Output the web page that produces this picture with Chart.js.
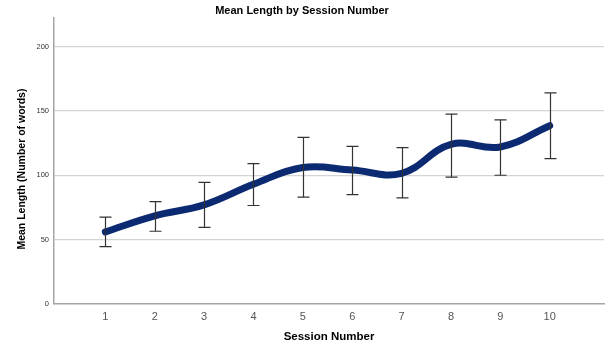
<!DOCTYPE html>
<html>
<head>
<meta charset="utf-8">
<script src="https://cdn.jsdelivr.net/npm/chart.js@4/dist/chart.umd.min.js"></script>
<style>
  html, body { margin: 0; padding: 0; background: #fff; }
  #wrap { width: 605px; height: 348px; }
</style>
</head>
<body>
<div id="wrap"><canvas id="myChart"></canvas></div>
<script>
const sessions = [1, 2, 3, 4, 5, 6, 7, 8, 9, 10];
const meanLength = [56, 68.5, 77, 93, 106, 104, 101.5, 124, 122, 138.5];
const upperCi = [67.5, 79.5, 94.5, 109, 129.5, 122.5, 121.5, 147.5, 143, 164];
const lowerCi = [44.5, 56.5, 59.5, 76.5, 83, 85, 82.5, 98.5, 100, 113];
const yTicks = [0, 50, 100, 150, 200];
const yTitle = "Mean Length (Number of words)";

const fontName = "'Liberation Sans', Arial, sans-serif";

// whiskers drawn from the scales, after the line
const errorBars = {
  id: "errorBars",
  afterDatasetsDraw(chart) {
    const { ctx, scales } = chart;
    ctx.save();
    ctx.strokeStyle = "#333";
    ctx.lineWidth = 1.2;
    sessions.forEach((s, i) => {
      const x = Math.round(scales.x.getPixelForValue(s)) + 0.5;
      const top = scales.y.getPixelForValue(upperCi[i]);
      const bottom = scales.y.getPixelForValue(lowerCi[i]);
      ctx.beginPath();
      ctx.moveTo(x, top);
      ctx.lineTo(x, bottom);
      ctx.moveTo(x - 6, top);
      ctx.lineTo(x + 6, top);
      ctx.moveTo(x - 6, bottom);
      ctx.lineTo(x + 6, bottom);
      ctx.stroke();
    });
    ctx.restore();
  },
};

// y title sits a bit below the axis middle in the original
const yAxisTitle = {
  id: "yAxisTitle",
  afterDraw(chart) {
    const { ctx, chartArea } = chart;
    ctx.save();
    ctx.translate(22, (chartArea.top + chartArea.bottom) / 2 + 8);
    ctx.rotate(-Math.PI / 2);
    ctx.font = "bold 10.5px " + fontName;
    ctx.fillStyle = "#000";
    ctx.textAlign = "center";
    ctx.textBaseline = "middle";
    ctx.fillText(yTitle, 0, 0);
    ctx.restore();
  },
};

const chartCanvas = document.querySelector("#myChart");

new Chart(chartCanvas, {
  type: "line",
  data: {
    datasets: [
      {
        data: sessions.map((s, i) => ({ x: s, y: meanLength[i] })),
        borderColor: "#0c2a72",
        backgroundColor: "#0c2a72",
        borderWidth: 7,
        borderCapStyle: "round",
        pointRadius: 0,
        tension: 0.4,
        cubicInterpolationMode: "default",
      },
    ],
  },
  options: {
    responsive: true,
    maintainAspectRatio: false,
    animation: false,
    layout: { padding: { top: 0, right: 1, left: 0, bottom: 0 } },
    plugins: {
      legend: { display: false },
      tooltip: { enabled: false },
      title: {
        display: true,
        text: "Mean Length by Session Number",
        color: "#000",
        font: { family: fontName, size: 11, weight: "bold" },
        padding: { top: 4, bottom: 1 },
      },
    },
    scales: {
      x: {
        type: "linear",
        min: -0.04,
        max: 11.1,
        afterBuildTicks: (axis) => {
          axis.ticks = sessions.map((v) => ({ value: v }));
        },
        afterFit: (axis) => {
          axis.height = 44;
        },
        grid: { display: false, drawTicks: false },
        border: { display: true, color: "#a6a6a6", width: 1.5 },
        ticks: {
          color: "#555",
          padding: 6,
          maxRotation: 0,
          font: { family: fontName, size: 11 },
        },
        title: {
          display: true,
          text: "Session Number",
          color: "#000",
          padding: { top: 7 },
          font: { family: fontName, size: 11.5, weight: "bold" },
        },
      },
      y: {
        min: 0,
        max: 222,
        afterBuildTicks: (axis) => {
          axis.ticks = yTicks.map((v) => ({ value: v }));
        },
        afterFit: (axis) => {
          axis.width = 54;
        },
        grid: {
          color: (c) => (c.tick && c.tick.value === 0 ? "rgba(0,0,0,0)" : "#d4d4d4"),
          lineWidth: 1.2,
          drawTicks: false,
        },
        border: { display: true, color: "#a6a6a6", width: 1.5 },
        ticks: {
          color: "#333",
          padding: 5,
          font: { family: fontName, size: 7.5 },
        },
        title: { display: false },
      },
    },
  },
  plugins: [errorBars, yAxisTitle],
});
</script>
</body>
</html>
